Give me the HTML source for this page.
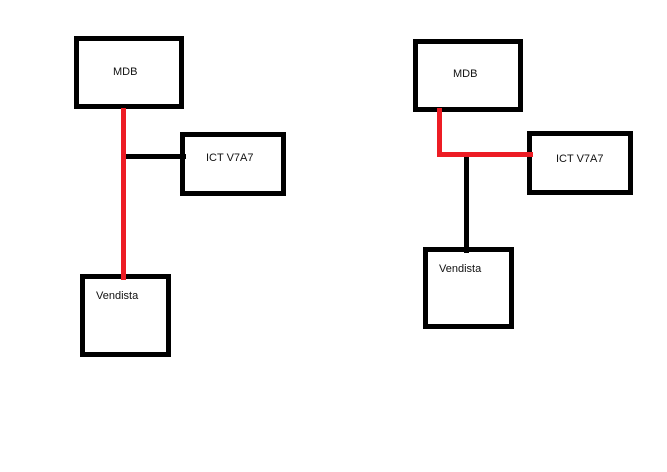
<!DOCTYPE html>
<html><head><meta charset="utf-8"><style>
html,body{margin:0;padding:0;background:#fff;width:667px;height:472px;overflow:hidden}
svg{display:block}
text{font-family:"Liberation Sans",sans-serif;font-size:11px;fill:#111}
</style></head><body>
<svg width="667" height="472" viewBox="0 0 667 472">
<g fill="none" stroke="#000" stroke-width="5">
<rect x="76.5" y="38.5" width="105" height="68"/>
<rect x="182.5" y="134.5" width="101" height="59"/>
<rect x="82.5" y="276.5" width="86" height="78"/>
<rect x="415.5" y="41.5" width="105" height="68"/>
<rect x="529.5" y="133.5" width="101" height="59"/>
<rect x="425.5" y="249.5" width="86" height="77"/>
</g>
<line x1="126" y1="156.5" x2="186" y2="156.5" stroke="#000" stroke-width="5"/>
<line x1="123.5" y1="108" x2="123.5" y2="280" stroke="#ed1c24" stroke-width="5"/>
<line x1="466.5" y1="157" x2="466.5" y2="253" stroke="#000" stroke-width="5"/>
<polyline points="439.5,108 439.5,154.5 533,154.5" fill="none" stroke="#ed1c24" stroke-width="5"/>
<text x="113" y="75">MDB</text>
<text x="206" y="161">ICT V7A7</text>
<text x="96" y="299">Vendista</text>
<text x="453" y="77">MDB</text>
<text x="556" y="162">ICT V7A7</text>
<text x="439" y="272">Vendista</text>
</svg>
</body></html>
